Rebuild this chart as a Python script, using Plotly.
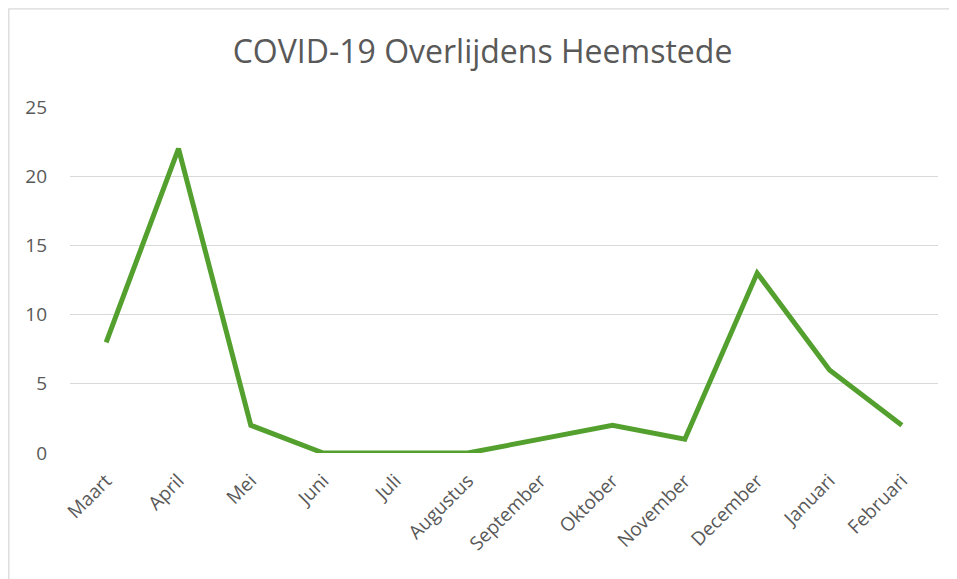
import plotly.graph_objects as go

months = ["Maart", "April", "Mei", "Juni", "Juli", "Augustus", "September",
          "Oktober", "November", "December", "Januari", "Februari"]
deaths = [8, 22, 2, 0, 0, 0, 1, 2, 1, 13, 6, 2]
y_ticks = [0, 5, 10, 15, 20, 25]

OFF = 8  # page body margin
W, H = 957 - OFF, 579 - OFF
L, R, T, B = 70 - OFF, 938 - OFF, 107 - OFF, 453 - OFF
pw, ph = R - L, B - T

fig = go.Figure()
fig.add_trace(go.Scatter(x=months, y=deaths, mode="lines",
                         line=dict(color="#53A02E", width=5),
                         hoverinfo="x+y"))

fig.update_layout(
    width=W, height=H,
    margin=dict(l=L, r=W - R, t=T, b=H - B, pad=0),
    paper_bgcolor="white", plot_bgcolor="white",
    font=dict(family="Open Sans", color="#595959", size=18),
    title=dict(text="COVID-19 Overlijdens Heemstede", x=0.5, xanchor="center",
               y=1 - (52 - OFF) / H, yanchor="middle",
               font=dict(size=32, color="#595959", family="Open Sans")),
    showlegend=False,
    xaxis=dict(type="category", range=[-0.5, 11.5], tickangle=-45,
               showgrid=False, zeroline=False, showline=False, ticks="",
               ticklabelstandoff=12,
               tickfont=dict(size=19, color="#595959")),
    yaxis=dict(range=[0, 25], tickvals=y_ticks, showgrid=True,
               gridcolor="#D9D9D9", gridwidth=1.3, zeroline=False,
               showline=False, ticks="", ticklabelstandoff=22,
               tickfont=dict(size=19, color="#595959")),
    shapes=[dict(type="rect", xref="paper", yref="paper",
                 x0=(0.8 - L) / pw, x1=(W + 30 - L) / pw,
                 y0=-(H + 30 - B) / ph, y1=(B - 0.8) / ph,
                 line=dict(color="#D9D9D9", width=1.3), layer="below")],
)

fig.write_html("out.html", config={"displayModeBar": False})
